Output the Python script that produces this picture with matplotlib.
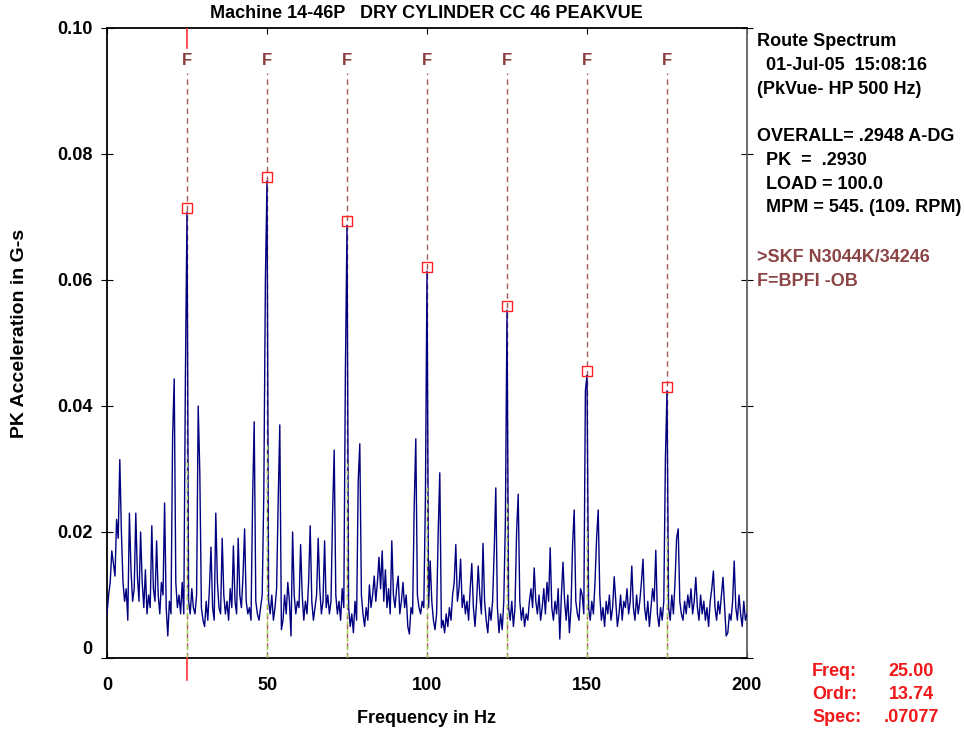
import numpy as np
import matplotlib.pyplot as plt
from matplotlib import transforms as mtransforms

plt.rcParams['font.family'] = ['Liberation Sans', 'DejaVu Sans']
plt.rcParams['font.weight'] = 'bold'
plt.rcParams['axes.labelweight'] = 'bold'
plt.rcParams['font.size'] = 13

# route spectrum, 0.5 Hz lines, amplitude in milli-G
freq_step = 0.5
amp_mg = [
    7, 10, 12, 17, 15, 13, 22, 19, 31.5, 20, 12, 9, 11, 6, 23, 14, 9, 11, 23, 13,
    9, 20, 12, 8, 14, 7, 10, 8, 21, 11, 9, 18.6, 10, 7, 12, 10, 24.6, 8, 3.5, 9,
    7, 35, 44.3, 12, 8, 10, 7, 12, 7, 44.6, 70.8, 9, 7, 11, 8, 7, 10, 40, 29.5, 8,
    6, 5, 9, 6, 11, 17.6, 8, 6, 23, 12, 8, 7, 19, 10, 7, 9, 6, 11, 8, 17.8,
    9, 7, 19, 10, 8, 13, 20.5, 9, 7, 8, 6, 25, 37.5, 9, 7, 6, 8, 10, 26, 60,
    75.7, 9, 7, 10, 6, 8, 11, 25, 37, 4.5, 6, 10, 7, 12, 9, 3.5, 20, 10, 7, 9,
    8, 18, 10, 6, 9, 7, 12, 21, 9, 6, 8, 10, 19, 11, 7, 9, 18.6, 8, 10, 7,
    9, 23, 33, 10, 7, 9, 6, 11, 8, 45.6, 68.7, 8, 5, 7, 4, 9, 6, 28, 34, 10,
    7, 5, 8, 6, 11.6, 8, 10, 13, 9, 12, 16, 11, 17, 9, 14, 8, 11, 7, 18.6, 10,
    8, 11, 13, 7, 9, 12, 8, 10, 5, 3.8, 8, 7, 24, 34.8, 10, 8, 7, 9, 8, 25.4,
    61.4, 8, 15.4, 9, 6, 4.5, 7, 20, 29.4, 4.8, 6, 4, 7, 5, 8, 6, 10, 12, 18, 9,
    11, 15.7, 8, 10, 7, 9, 6, 11, 15, 8, 5, 9, 14.6, 10, 7, 18.2, 9, 6, 4, 8,
    6, 9, 17, 27, 8, 4, 7, 4.5, 9, 22, 55.2, 8, 6, 9, 5, 8, 20, 26, 9, 6,
    8, 5, 7, 6, 9, 11, 8, 14.3, 9, 7, 10, 6, 8, 11, 7, 12, 9, 17.5, 8, 6,
    9, 7, 11, 3, 10, 15.2, 9, 6, 10, 4, 8, 18, 23.5, 9, 7, 6, 11, 10, 7, 42.4,
    44.9, 8, 6, 9, 7, 12, 19, 23.5, 10, 6, 8, 5, 9, 7, 10, 6, 8, 12.9, 9, 5,
    7, 10, 6, 9, 8, 11, 7, 9, 14.6, 8, 6, 10, 7, 9, 12, 15.7, 8, 6, 9, 5,
    8, 11, 9, 17.1, 7, 5, 8, 6, 9, 31.6, 42.4, 8, 6, 10, 7, 12, 19, 20.5, 9, 7,
    6, 9, 7, 10, 8, 11, 7, 9, 12.8, 8, 6, 10, 7, 9, 6, 8, 5, 9, 11, 13.8,
    8, 6, 9, 7, 10, 12.8, 8, 3.5, 4, 7, 6, 9, 15.4, 8, 6, 10, 7, 5, 9, 6,
    7,
]
freq = np.arange(len(amp_mg)) * freq_step
amp = np.array(amp_mg) / 1000.0

harm_freqs = [25, 50, 75, 100, 125, 150, 175]   # BPFI harmonics
cursor_freq = 25.0

xticks = [0, 50, 100, 150, 200]
yticks = [0, 0.02, 0.04, 0.06, 0.08, 0.10]
ytick_labels = ['0', '0.02', '0.04', '0.06', '0.08', '0.10']

title = 'Machine 14-46P   DRY CYLINDER CC 46 PEAKVUE'
info_lines = ['Route Spectrum', '01-Jul-05  15:08:16', '(PkVue- HP 500 Hz)',
              'OVERALL= .2948 A-DG', 'PK  =  .2930', 'LOAD = 100.0',
              'MPM = 545. (109. RPM)']
info_indent = [0, 1, 0, 0, 1, 1, 1]
info_rows = [0, 1, 2, 4, 5, 6, 7]
fault_lines = ['>SKF N3044K/34246', 'F=BPFI -OB']
cursor_names = ['Freq:', 'Ordr:', 'Spec:']
cursor_vals = ['25.00', '13.74', '.07077']

W, H = 964, 732
fig = plt.figure(figsize=(W / 100, H / 100), dpi=100)
ax = fig.add_axes([107 / W, 1 - 658 / H, 640 / W, 630 / H])

ax.plot(freq, amp, color='#000080', lw=1.0, zorder=3)

pk_vals = [amp[np.argmin(np.abs(freq - f))] for f in harm_freqs]
for f, p in zip(harm_freqs, pk_vals):
    ax.plot([f, f], [0, 0.0928], color='#a85a5a', lw=1, dashes=(4, 3), zorder=2)
    ax.plot([f, f], [0, p * 0.45], color='#a0d050', lw=1, dashes=(3, 3), zorder=4)
    ax.text(f, 0.0948, 'F', ha='center', va='center', color='#8b3c3c', fontsize=12)

off = mtransforms.offset_copy(ax.transData, fig=fig, x=0, y=4, units='dots')
ax.plot(harm_freqs, pk_vals, 's', mfc='none', mec='#ff2020', ms=6.5, mew=1,
        transform=off, zorder=6, clip_on=False)

# cursor
ax.plot([cursor_freq, cursor_freq], [0.0968, 0.1], color='#ff3030', lw=1.2, zorder=5)
ax.plot([cursor_freq, cursor_freq], [-0.0035, 0], color='#ff3030', lw=1.2,
        zorder=5, clip_on=False)

ax.set_xlim(0, 200)
ax.set_ylim(0, 0.10)
ax.set_xticks(xticks)
ax.set_yticks(yticks)
ax.set_yticklabels(ytick_labels)
ax.get_yticklabels()[0].set_va('bottom')
ax.tick_params(axis='x', direction='in', length=4, top=True, pad=14)
ax.tick_params(axis='y', direction='inout', length=9, right=True, pad=6)
for s in ax.spines.values():
    s.set_linewidth(1.3)
ax.spines['right'].set_color('#606060')

ax.set_xlabel('Frequency in Hz')
ax.xaxis.set_label_coords(0.5, -0.083)
ax.set_ylabel('PK Acceleration in G-s', fontsize=14)
ax.yaxis.set_label_coords(-0.124, 0.515)

fig.text(426 / W, 1 - 14 / H, title, ha='center', va='center')

for txt, ind, row in zip(info_lines, info_indent, info_rows):
    fig.text((757 + 9 * ind) / W, 1 - (42 + 23.7 * row) / H, txt, va='center')
for k, txt in enumerate(fault_lines):
    fig.text(757 / W, 1 - (257 + 24 * k) / H, txt, va='center', color='#8b4545')

for k, (n, v) in enumerate(zip(cursor_names, cursor_vals)):
    y = 1 - (672 + 22.5 * k) / H
    fig.text(812 / W, y, n, va='center', color='#f01818')
    fig.text(911 / W, y, v, va='center', ha='center', color='#f01818')

fig.savefig('out.png', dpi=100)
